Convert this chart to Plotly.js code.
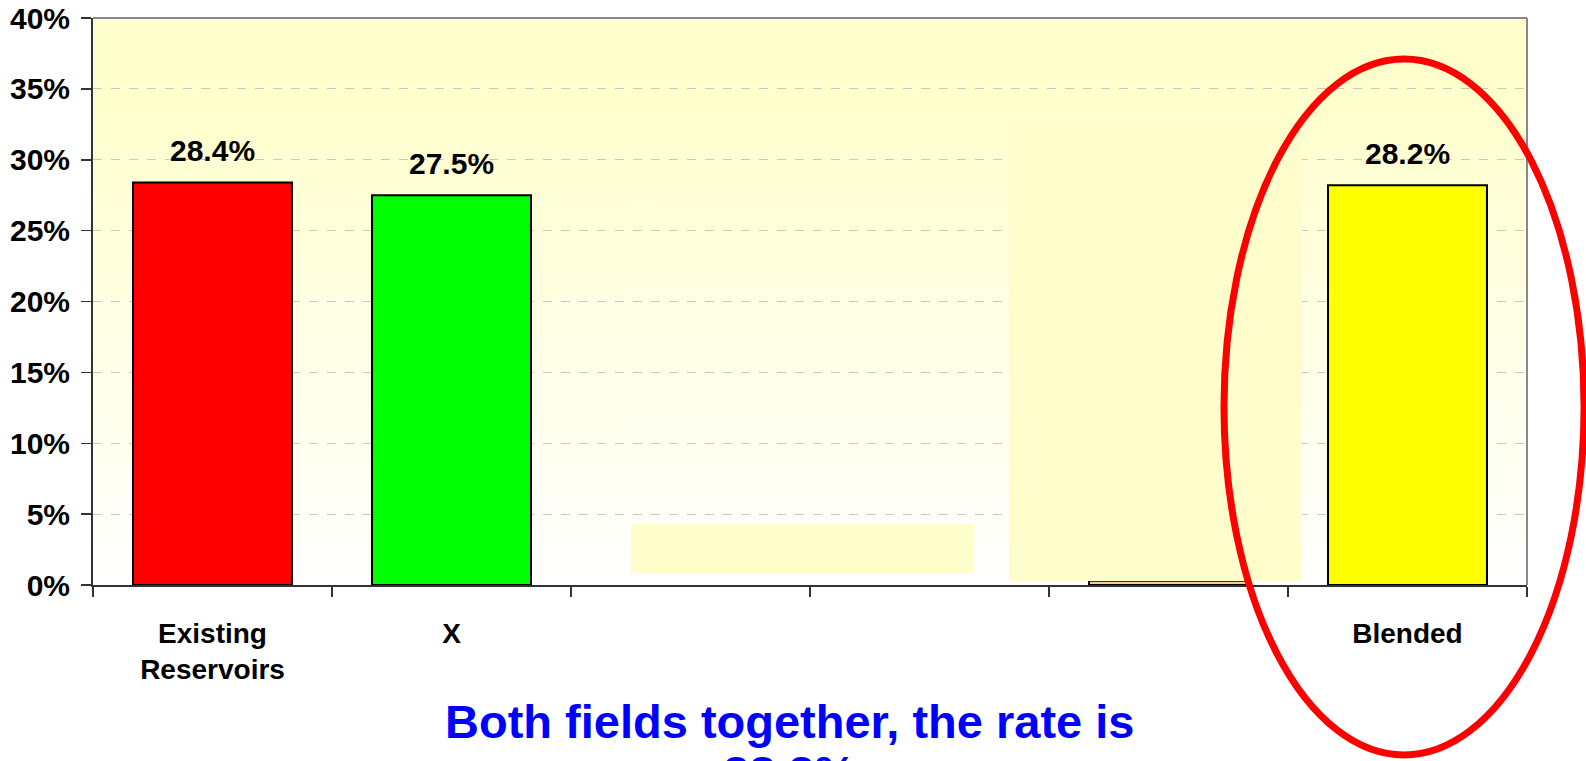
<!DOCTYPE html>
<html>
<head>
<meta charset="utf-8">
<script src="https://cdn.plot.ly/plotly-3.0.1.min.js"></script>
<style>html,body{margin:0;padding:0;background:#fff}#chart{width:1586px;height:761px}</style>
</head>
<body>
<div id="chart"></div>
<script>
// ---- data ----
const categories = ["Existing<br>Reservoirs", "X", "", "", "", "Blended"];
const values = [28.4, 27.5, null, null, 0.3, 28.2];
const valueLabels = ["28.4%", "27.5%", "", "", "", "28.2%"];
const yTickVals = [0, 5, 10, 15, 20, 25, 30, 35, 40];
const yTickText = ["0%", "5%", "10%", "15%", "20%", "25%", "30%", "35%", "40%"];
const noteLines = ["Both fields together, the rate is", "28.2%"];

// ---- styles ----
const barColors = ["#FF0000", "#00FF00", "#FFFF00", "#FFFF00", "#FFCC99", "#FFFF00"];
const FONT = "Liberation Sans, Arial, sans-serif";

const xIdx = categories.map((_, i) => i);

// gradient background image
const cv = document.createElement("canvas");
cv.width = 4; cv.height = 400;
const ctx = cv.getContext("2d");
const g = ctx.createLinearGradient(0, 0, 0, 400);
g.addColorStop(0, "#FFFFCC");
g.addColorStop(0.12, "#FFFFCC");
g.addColorStop(1, "#FFFFFF");
ctx.fillStyle = g; ctx.fillRect(0, 0, 4, 400);
const bgURL = cv.toDataURL();

const trace = {
  type: "bar",
  x: xIdx,
  y: values,
  marker: { color: barColors, line: { color: "#000000", width: 2 } },
  width: 0.665,
  hoverinfo: "skip"
};

const labelAnns = xIdx.filter(i => valueLabels[i]).map(i => ({
  x: i, y: values[i], xref: "x", yref: "y",
  text: "<b>" + valueLabels[i] + "</b>", showarrow: false,
  yanchor: "bottom", yshift: 13,
  font: { family: FONT, size: 30, color: "#000" }
}));

const noteAnns = [
  { x: 0.486, y: -0.240, xref: "paper", yref: "paper", text: "<b>" + noteLines[0] + "</b>",
    showarrow: false, yanchor: "middle", xanchor: "center",
    font: { family: FONT, size: 47, color: "#0000FF" } },
  { x: 0.486, y: -0.330, xref: "paper", yref: "paper", text: "<b>" + noteLines[1] + "</b>",
    showarrow: false, yanchor: "middle", xanchor: "center",
    font: { family: FONT, size: 47, color: "#0000FF" } }
];

const layout = {
  width: 1586, height: 761,
  margin: { l: 93, r: 59, t: 18, b: 176 },
  paper_bgcolor: "#FFFFFF",
  plot_bgcolor: "rgba(0,0,0,0)",
  showlegend: false,
  bargap: 0.335,
  images: [{ source: bgURL, xref: "paper", yref: "paper", x: 0, y: 1, sizex: 1, sizey: 1,
             sizing: "stretch", layer: "below", xanchor: "left", yanchor: "top" }],
  xaxis: {
    range: [-0.5, 5.5],
    tickvals: xIdx, ticktext: categories.map(c => c ? "<b>" + c + "</b>" : ""),
    ticks: "", showgrid: false, zeroline: false,
    showline: true, linecolor: "#333333", linewidth: 2,
    tickfont: { family: FONT, size: 28, color: "#000" },
    ticklabelstandoff: 22,
    minor: { tick0: -0.5, dtick: 1, ticks: "outside", ticklen: 10, tickcolor: "#333333", tickwidth: 1.5, showgrid: false }
  },
  yaxis: {
    range: [0, 40],
    tickvals: yTickVals, ticktext: yTickText.map(t => "<b>" + t + "</b>"),
    ticks: "outside", ticklen: 10, tickcolor: "#333333", tickwidth: 1.5,
    showgrid: true, gridcolor: "#C8C8C8", griddash: "dash", gridwidth: 1,
    zeroline: false, showline: true, linecolor: "#333333", linewidth: 2,
    tickfont: { family: FONT, size: 30, color: "#000" },
    ticklabelstandoff: 5
  },
  shapes: [
    { type: "line", xref: "paper", yref: "paper", x0: 0, x1: 1, y0: 1, y1: 1, line: { color: "#888888", width: 2 } },
    { type: "line", xref: "paper", yref: "paper", x0: 1, x1: 1, y0: 0, y1: 1, line: { color: "#888888", width: 2 } },
    { type: "rect", xref: "paper", yref: "paper", x0: 0.3752, x1: 0.6144, y0: 0.0212, y1: 0.1076,
      fillcolor: "#FFFDCB", line: { width: 0 }, layer: "above" },
    { type: "rect", xref: "paper", yref: "paper", x0: 0.6388, x1: 0.8431, y0: 0.0071, y1: 0.8183,
      fillcolor: "#FFFDCB", line: { width: 0 }, layer: "above" },
    { type: "circle", xref: "paper", yref: "paper", x0: 0.7887, x1: 1.0398, y0: -0.2998, y1: 0.9277,
      line: { color: "#FF0000", width: 7 }, layer: "above" }
  ],
  annotations: labelAnns.concat(noteAnns)
};

Plotly.newPlot("chart", [trace], layout, { displayModeBar: false, staticPlot: true });
</script>
</body>
</html>
